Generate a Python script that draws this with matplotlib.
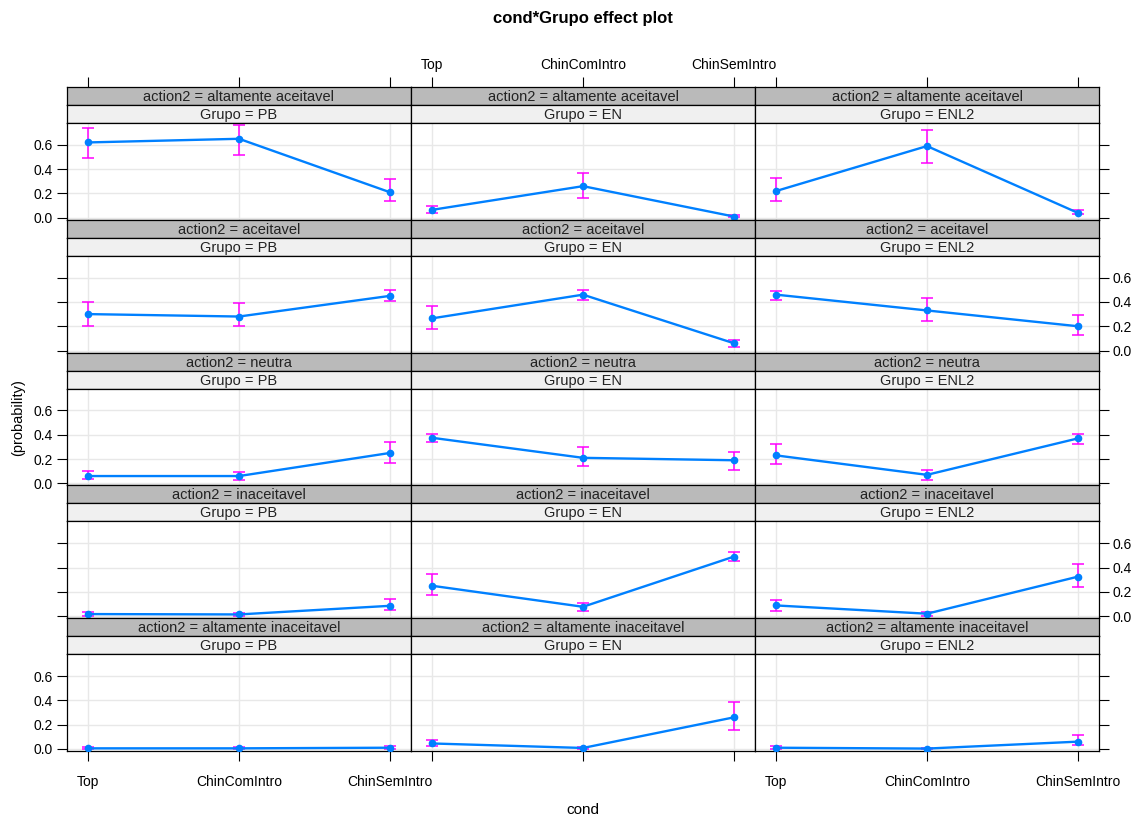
import matplotlib.pyplot as plt
import numpy as np

plt.rcParams['font.family'] = ['Liberation Sans', 'DejaVu Sans']

conds = ['Top', 'ChinComIntro', 'ChinSemIntro']
groups = ['PB', 'EN', 'ENL2']
actions = ['altamente aceitavel', 'aceitavel', 'neutra', 'inaceitavel', 'altamente inaceitavel']

# fitted probabilities [action][group][cond]
fit_alt_aceit = [[0.62, 0.65, 0.21], [0.065, 0.26, 0.01], [0.22, 0.59, 0.04]]
fit_aceit = [[0.30, 0.28, 0.45], [0.265, 0.46, 0.06], [0.46, 0.33, 0.20]]
fit_neutra = [[0.06, 0.06, 0.25], [0.375, 0.21, 0.19], [0.23, 0.07, 0.37]]
fit_inaceit = [[0.017, 0.014, 0.085], [0.25, 0.077, 0.49], [0.088, 0.02, 0.325]]
fit_alt_inaceit = [[0.005, 0.005, 0.01], [0.045, 0.008, 0.26], [0.01, 0.003, 0.06]]

# lower confidence limits
lo_alt_aceit = [[0.49, 0.52, 0.14], [0.04, 0.16, 0.002], [0.14, 0.45, 0.03]]
lo_aceit = [[0.20, 0.20, 0.41], [0.18, 0.42, 0.03], [0.42, 0.24, 0.13]]
lo_neutra = [[0.036, 0.03, 0.17], [0.34, 0.14, 0.11], [0.16, 0.03, 0.32]]
lo_inaceit = [[0.004, 0.003, 0.05], [0.17, 0.044, 0.45], [0.044, 0.005, 0.24]]
lo_alt_inaceit = [[0.001, 0.001, 0.002], [0.025, 0.002, 0.16], [0.002, 0.0005, 0.033]]

# upper confidence limits
hi_alt_aceit = [[0.74, 0.76, 0.32], [0.10, 0.37, 0.02], [0.33, 0.72, 0.06]]
hi_aceit = [[0.40, 0.39, 0.50], [0.37, 0.50, 0.09], [0.49, 0.43, 0.29]]
hi_neutra = [[0.10, 0.09, 0.34], [0.41, 0.30, 0.26], [0.32, 0.11, 0.41]]
hi_inaceit = [[0.03, 0.025, 0.14], [0.35, 0.11, 0.53], [0.13, 0.035, 0.43]]
hi_alt_inaceit = [[0.015, 0.012, 0.025], [0.072, 0.02, 0.39], [0.025, 0.01, 0.115]]

fits = [fit_alt_aceit, fit_aceit, fit_neutra, fit_inaceit, fit_alt_inaceit]
lows = [lo_alt_aceit, lo_aceit, lo_neutra, lo_inaceit, lo_alt_inaceit]
highs = [hi_alt_aceit, hi_aceit, hi_neutra, hi_inaceit, hi_alt_inaceit]

W, H = 1132, 818
fig = plt.figure(figsize=(W / 100, H / 100), dpi=100)


def box(x0, y0, w, h):
    # pixel box (top-left origin) -> figure fraction rect
    return [x0 / W, 1 - (y0 + h) / H, w / W, h / H]


left, col_w = 67, 344
top, row_h = 87, 132.8
strip_h = 18
plot_h = row_h - 2 * strip_h
xs = np.arange(1, 4)
xlim = (0.86, 3.14)
ylim = (-0.017, 0.78)
yt = [0.0, 0.2, 0.4, 0.6]
blue = '#0080ff'
mag = '#ff00ff'
tick_fs = 10
strip_fs = 10.5

for r, act in enumerate(actions):
    for c, grp in enumerate(groups):
        x0 = left + c * col_w
        y0 = top + r * row_h
        s1 = fig.add_axes(box(x0, y0, col_w, strip_h))
        s2 = fig.add_axes(box(x0, y0 + strip_h, col_w, strip_h))
        ax = fig.add_axes(box(x0, y0 + 2 * strip_h, col_w, plot_h))

        for s, col, txt in [(s1, '#bababa', f'action2 = {act}'), (s2, '#f0f0f0', f'Grupo = {grp}')]:
            s.set_facecolor(col)
            s.set_xlim(xlim)
            s.set_ylim(0, 1)
            s.set_yticks([])
            s.set_xticks([])
            s.text(0.5, 0.45, txt, transform=s.transAxes, ha='center', va='center',
                   fontsize=strip_fs, color='#222222')
            for sp in s.spines.values():
                sp.set_linewidth(0.9)

        # top ticks above the first row of strips
        if r == 0:
            s1.set_xticks(xs)
            s1.tick_params(axis='x', bottom=False, top=True, labelbottom=False,
                           labeltop=(c == 1), direction='out', length=7,
                           labelsize=tick_fs, pad=4)
            s1.set_xticklabels(conds)

        f = np.array(fits[r][c])
        lo = np.array(lows[r][c])
        hi = np.array(highs[r][c])

        ax.grid(True, color='#e8e8e8', linewidth=1.0)
        ax.set_axisbelow(True)
        ax.errorbar(xs, f, yerr=[f - lo, hi - f], fmt='none', ecolor=mag,
                    elinewidth=1.1, capsize=4.5, capthick=1.1, zorder=2)
        ax.plot(xs, f, color=blue, linewidth=1.7, zorder=3)
        ax.plot(xs, f, 'o', color=blue, markersize=4.5, zorder=4)
        ax.set_xlim(xlim)
        ax.set_ylim(ylim)
        ax.set_xticks(xs)
        ax.set_yticks(yt)
        ax.set_yticklabels([f'{v:.1f}' for v in yt])
        for sp in ax.spines.values():
            sp.set_linewidth(0.9)

        label_left = (r % 2 == 0)
        ax.tick_params(axis='y', direction='out', length=7, labelsize=tick_fs, pad=3,
                       left=(c == 0), right=(c == 2),
                       labelleft=(c == 0 and label_left),
                       labelright=(c == 2 and not label_left))
        ax.tick_params(axis='x', direction='out', length=7, labelsize=tick_fs,
                       bottom=(r == 4), top=False,
                       labelbottom=(r == 4 and c != 1), pad=10)
        ax.set_xticklabels(conds)

fig.text(583 / W, 1 - 18 / H, 'cond*Grupo effect plot', ha='center', va='center',
         fontsize=12, fontweight='bold')
fig.text(583 / W, 1 - 810 / H, 'cond', ha='center', va='center', fontsize=11)
fig.text(18 / W, 1 - 418 / H, '(probability)', ha='center', va='center',
         rotation=90, fontsize=10.5)

fig.savefig('out.png', dpi=100)
